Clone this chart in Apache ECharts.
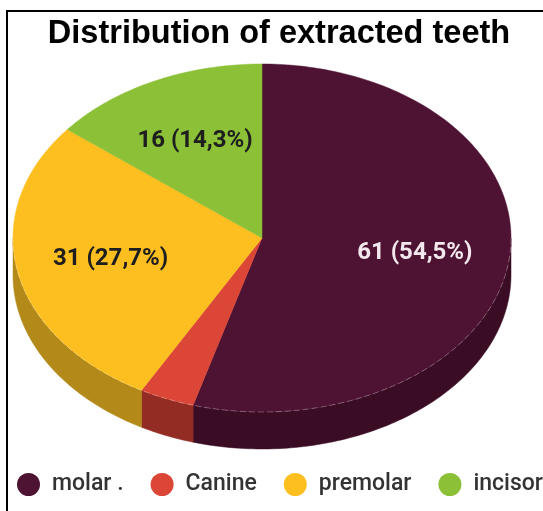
<!DOCTYPE html>
<html>
<head>
<meta charset="utf-8">
<script src="https://cdn.jsdelivr.net/npm/echarts@6/dist/echarts.min.js"></script>
<style>
  html, body { margin: 0; padding: 0; background: #fff; }
  #chart { width: 543px; height: 511px; }
</style>
</head>
<body>
<div id="chart"></div>
<script>
// Extracted teeth by type
const categories = ['molar .', 'Canine', 'premolar', 'incisor'];
const counts = [61, 4, 31, 16];
const topColors = ['#4e1232', '#dc4636', '#fdbf20', '#8bc037'];
const sideColors = ['#3a0d25', '#932c22', '#b38a1a', '#5f8a26'];
const labelColors = ['#f3e8ee', '#222222', '#1e1e1e', '#1e1e1e'];

const total = counts.reduce((a, b) => a + b, 0);

// Tilted pie geometry (pixels)
const geo = { cx: 262, cy: 238, rx: 249, ry: 174, depth: 37, labelR: 0.62 };

function pt(theta, dy) {
  return [geo.cx + geo.rx * Math.sin(theta), geo.cy - geo.ry * Math.cos(theta) + (dy || 0)];
}

function arc(a, b, dy) {
  const pts = [];
  const n = Math.max(2, Math.ceil((b - a) / (Math.PI / 180)));
  for (let i = 0; i <= n; i++) pts.push(pt(a + (b - a) * i / n, dy));
  return pts;
}

function fmtLabel(v) {
  return v + ' (' + (v / total * 100).toFixed(1).replace('.', ',') + '%)';
}

function renderSlice(params, api) {
  const idx = params.seriesIndex;
  const v = api.value(0);
  let before = 0;
  for (let i = 0; i < idx; i++) before += counts[i];
  const a0 = before / total * Math.PI * 2;
  const a1 = a0 + v / total * Math.PI * 2;
  const children = [];

  // front wall: visible part lies between 90° and 270° (clockwise from top)
  const s = Math.max(a0, Math.PI / 2), e = Math.min(a1, Math.PI * 1.5);
  if (e > s) {
    const upper = arc(s, e, 0);
    const lower = arc(s, e, geo.depth).reverse();
    children.push({
      type: 'polygon', z2: 1,
      shape: { points: upper.concat(lower) },
      style: { fill: sideColors[idx], stroke: sideColors[idx], lineWidth: 0.5 }
    });
    children.push({
      type: 'polyline', z2: 20,
      shape: { points: upper },
      style: { fill: null, stroke: 'rgba(255,255,255,0.35)', lineWidth: 0.8, lineDash: [6, 3] }
    });
  }

  // top face
  children.push({
    type: 'polygon', z2: 10,
    shape: { points: [[geo.cx, geo.cy]].concat(arc(a0, a1, 0)) },
    style: { fill: topColors[idx], stroke: topColors[idx], lineWidth: 0.5 }
  });

  if (v / total > 0.05) {
    const mid = (a0 + a1) / 2;
    const lx = geo.cx + geo.rx * geo.labelR * Math.sin(mid);
    const ly = geo.cy - geo.ry * geo.labelR * Math.cos(mid);
    children.push({
      type: 'text', z2: 50,
      style: {
        x: lx, y: ly, text: fmtLabel(v),
        fill: labelColors[idx],
        font: 'bold 24px Roboto, sans-serif',
        align: 'center', verticalAlign: 'middle'
      }
    });
  }
  return { type: 'group', children: children };
}

const chart = echarts.init(document.getElementById('chart'), null, { renderer: 'canvas' });

chart.setOption({
  animation: false,
  title: {
    text: 'Distribution of extracted teeth',
    left: 274, top: 13, textAlign: 'center',
    textStyle: { fontFamily: 'Liberation Sans, Arial, sans-serif', fontWeight: 'bold', fontSize: 32.5, color: '#000' }
  },
  legend: {
    data: categories,
    left: 17, top: 473, width: 620, padding: 0,
    icon: 'circle', itemWidth: 23, itemHeight: 23, itemGap: 27,
    textStyle: { fontFamily: 'Roboto, sans-serif', fontWeight: 500, fontSize: 23, color: '#333', padding: [0, 0, 0, 7] }
  },
  graphic: [
    { type: 'line', shape: { x1: 6, y1: 11, x2: 543, y2: 11 }, style: { stroke: '#000', lineWidth: 2 } },
    { type: 'line', shape: { x1: 7, y1: 10, x2: 7, y2: 511 }, style: { stroke: '#000', lineWidth: 2 } }
  ],
  series: categories.map((name, i) => ({
    type: 'custom',
    name: name,
    coordinateSystem: 'none',
    itemStyle: { color: topColors[i] },
    renderItem: renderSlice,
    data: [counts[i]]
  }))
});
</script>
</body>
</html>
